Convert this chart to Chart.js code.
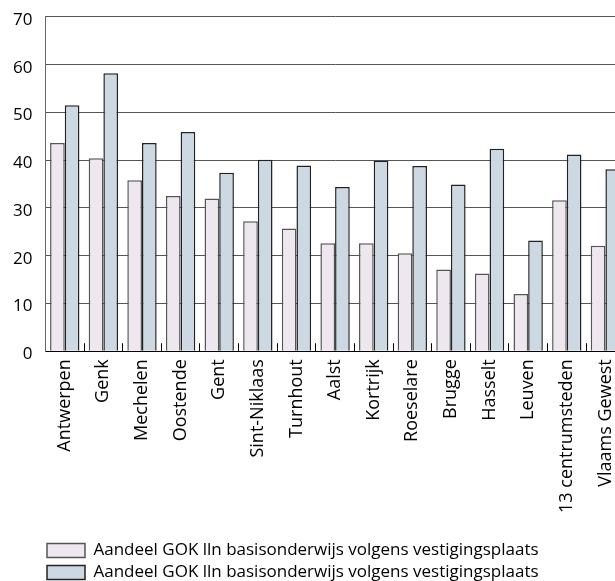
<!DOCTYPE html>
<html>
<head>
<meta charset="utf-8">
<script src="https://cdn.jsdelivr.net/npm/chart.js@4"></script>
<style>
    html, body { margin: 0; padding: 0; background: #fff; overflow: hidden; }
    .frame { width: 615px; height: 581px; overflow: hidden; position: relative; }
    .wrap { position: absolute; left: 0; top: 0; width: 643px; height: 581px; }
</style>
</head>
<body>
<div class="frame"><div class="wrap"><canvas id="gokChart"></canvas></div></div>
<script>
// Steden (categorie-as)
const cities = ['Antwerpen', 'Genk', 'Mechelen', 'Oostende', 'Gent', 'Sint-Niklaas', 'Turnhout',
    'Aalst', 'Kortrijk', 'Roeselare', 'Brugge', 'Hasselt', 'Leuven', '13 centrumsteden', 'Vlaams Gewest'];

// Reeks 1 (lichtroze) en reeks 2 (grijsblauw), in %
const shareA = [43.6, 40.4, 35.8, 32.5, 32.0, 27.2, 25.7, 22.6, 22.6, 20.5, 17.1, 16.3, 12.0, 31.6, 22.1];
const shareB = [51.5, 58.2, 43.6, 45.9, 37.4, 40.1, 38.9, 34.4, 39.9, 38.8, 34.9, 42.4, 23.2, 41.2, 38.1];

const seriesLabels = ['Aandeel GOK lln basisonderwijs volgens vestigingsplaats',
    'Aandeel GOK lln basisonderwijs volgens vestigingsplaats'];
const yTicks = [0, 10, 20, 30, 40, 50, 60, 70];

const font = "'Open Sans', 'Noto Sans', sans-serif";

// put the legend where the original has it (under the labels, in line with the y axis)
const legendPlace = {
    id: 'legendPlace',
    afterLayout(chart) {
        if (!chart.legend) return;
        chart.legend.left = 42;
        chart.legend.top = 537;
    }
};

new Chart(document.getElementById('gokChart').getContext('2d'), {
    type: 'bar',
    data: {
        labels: cities,
        datasets: [{
            label: seriesLabels[0],
            data: shareA,
            backgroundColor: '#efe7ef',
            borderColor: '#555',
            borderWidth: 1.5,
            barPercentage: 1.0,
            categoryPercentage: 0.76
        }, {
            label: seriesLabels[1],
            data: shareB,
            backgroundColor: '#ccd8e2',
            borderColor: '#222',
            borderWidth: 1.5,
            barPercentage: 1.0,
            categoryPercentage: 0.76
        }]
    },
    options: {
        responsive: true,
        maintainAspectRatio: false,
        animation: false,
        layout: { padding: { top: 0, left: 0, right: 0, bottom: -2 } },
        plugins: {
            legend: {
                position: 'bottom',
                align: 'start',
                labels: {
                    boxWidth: 38,
                    boxHeight: 14,
                    padding: 5,
                    color: '#000',
                    font: { family: font, size: 17 }
                }
            },
            tooltip: { enabled: false }
        },
        scales: {
            x: {
                grid: {
                    offset: true,
                    drawOnChartArea: false,
                    tickLength: -8,
                    color: '#000'
                },
                border: { color: '#000', width: 1 },
                ticks: {
                    minRotation: 90,
                    maxRotation: 90,
                    autoSkip: false,
                    padding: 16,
                    color: '#000',
                    font: { family: font, size: 18 }
                }
            },
            y: {
                min: 0,
                max: 70,
                afterBuildTicks: axis => {
                    axis.ticks = yTicks.map(v => ({ value: v }));
                },
                grid: {
                    drawTicks: false,
                    color: '#555'
                },
                border: { color: '#666' },
                ticks: {
                    padding: 13,
                    labelOffset: 3,
                    color: '#000',
                    // small lineHeight keeps the top padding (half label + tick padding) tight
                    font: { family: font, size: 17, lineHeight: 0.47 }
                }
            }
        }
    },
    plugins: [legendPlace]
});
</script>
</body>
</html>
